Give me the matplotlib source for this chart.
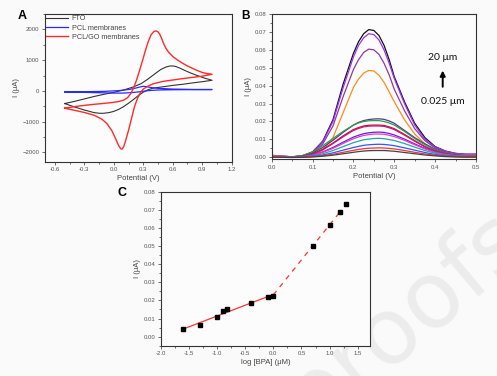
import matplotlib
matplotlib.use("Agg")
import matplotlib.pyplot as plt
import numpy as np
from matplotlib.ticker import MultipleLocator

plt.rcParams['font.family'] = ['Liberation Sans', 'DejaVu Sans']

# ---------------- Panel A data (CV) ----------------
fto_x = [-0.5, -0.4, -0.3, -0.2, -0.1, 0.0, 0.1, 0.2, 0.28, 0.35, 0.42, 0.48, 0.53, 0.57, 0.6, 0.63,
         0.67, 0.72, 0.78, 0.85, 0.92, 1.0,
         0.9, 0.8, 0.7, 0.6, 0.5, 0.4, 0.35, 0.3, 0.25, 0.2, 0.15, 0.1, 0.05, 0.0, -0.05, -0.1,
         -0.14, -0.2, -0.3, -0.4, -0.5]
fto_y = [-410, -340, -260, -180, -110, -45, 30, 130, 240, 390, 560, 700, 775, 810, 812, 795,
         745, 670, 585, 500, 420, 346,
         300, 260, 215, 180, 135, 90, 40, -40, -150, -280, -400, -510, -600, -665, -705, -725,
         -728, -705, -620, -520, -410]

pcl_x = [-0.5, -0.3, -0.1, 0.05, 0.15, 0.22, 0.27, 0.3, 0.33, 0.38, 0.45, 0.6, 0.8, 1.0,
         0.8, 0.6, 0.45, 0.35, 0.28, 0.2, 0.1, 0.0, -0.2, -0.5]
pcl_y = [-30, -25, -15, 10, 45, 90, 130, 150, 140, 110, 85, 60, 48, 45,
         42, 38, 30, 10, -20, -50, -70, -70, -55, -30]

go_x = [-0.5, -0.4, -0.3, -0.2, -0.1, 0.0, 0.05, 0.1, 0.14, 0.17, 0.2, 0.23, 0.26, 0.29, 0.32,
        0.35, 0.38, 0.41, 0.43, 0.45, 0.47, 0.49, 0.51, 0.53, 0.56, 0.6, 0.65, 0.7, 0.75, 0.8,
        0.85, 0.9, 0.95, 1.0,
        0.9, 0.8, 0.7, 0.6, 0.5, 0.4, 0.35, 0.3, 0.27, 0.24, 0.21, 0.18, 0.15, 0.12, 0.1, 0.085,
        0.07, 0.05, 0.02, -0.02, -0.07, -0.12, -0.2, -0.3, -0.4, -0.5]
go_y = [-562, -510, -470, -435, -405, -370, -345, -300, -220, -100, 80, 340, 640, 960, 1290,
        1600, 1830, 1935, 1950, 1920, 1830, 1680, 1520, 1390, 1250, 1120, 1000, 900, 810, 735,
        665, 600, 565, 541,
        480, 440, 400, 355, 310, 230, 160, 60, -60, -250, -520, -900, -1280, -1620, -1820, -1890,
        -1880, -1780, -1560, -1290, -1060, -920, -790, -700, -630, -562]

# ---------------- Panel B data (DPV) ----------------
dpv_x = [0.0, 0.025, 0.05, 0.075, 0.1, 0.125, 0.15, 0.175, 0.2, 0.2125, 0.225, 0.2375, 0.25,
         0.2625, 0.275, 0.2875, 0.3, 0.325, 0.35, 0.375, 0.4, 0.425, 0.45, 0.475, 0.5]
dpv_curves = [
    [0.001, 0.0006, 0.0003, 0.0008, 0.003, 0.009, 0.021, 0.041, 0.058, 0.0645, 0.069, 0.0713, 0.0708, 0.068, 0.0625, 0.0545, 0.045, 0.031, 0.019, 0.011, 0.006, 0.0035, 0.0022, 0.0017, 0.0017],
    [0.0012, 0.0007, 0.0003, 0.0008, 0.003, 0.0087, 0.020, 0.039, 0.056, 0.0625, 0.0667, 0.069, 0.0685, 0.0655, 0.060, 0.0525, 0.044, 0.030, 0.018, 0.010, 0.0058, 0.0034, 0.0022, 0.0018, 0.0018],
    [0.001, 0.0006, 0.0003, 0.0007, 0.0025, 0.0075, 0.0175, 0.034, 0.049, 0.0545, 0.0585, 0.0604, 0.060, 0.0575, 0.0525, 0.046, 0.038, 0.026, 0.016, 0.0093, 0.0052, 0.003, 0.002, 0.0015, 0.0015],
    [0.0008, 0.0005, 0.0002, 0.0003, 0.001, 0.004, 0.011, 0.025, 0.039, 0.0437, 0.047, 0.0485, 0.0482, 0.0458, 0.0418, 0.0365, 0.031, 0.021, 0.013, 0.0075, 0.0042, 0.0025, 0.0015, 0.0012, 0.0012],
    [0.0005, 0.0003, 0.0002, 0.0008, 0.0025, 0.0055, 0.0095, 0.014, 0.018, 0.0195, 0.0205, 0.0211, 0.0214, 0.0215, 0.0212, 0.0203, 0.019, 0.015, 0.011, 0.0075, 0.0045, 0.0025, 0.0015, 0.001, 0.001],
    [0.0005, 0.0003, 0.0002, 0.001, 0.003, 0.0065, 0.0105, 0.0145, 0.018, 0.0192, 0.020, 0.0204, 0.0205, 0.0205, 0.020, 0.0192, 0.018, 0.0145, 0.0105, 0.007, 0.0042, 0.0024, 0.0014, 0.001, 0.001],
    [0.0004, 0.0002, 0.0001, 0.0006, 0.002, 0.0045, 0.008, 0.012, 0.0155, 0.0166, 0.0175, 0.0179, 0.018, 0.018, 0.0178, 0.017, 0.016, 0.0128, 0.0093, 0.006, 0.0036, 0.002, 0.0012, 0.0008, 0.0008],
    [0.0004, 0.0002, 0.0001, 0.0005, 0.0018, 0.0042, 0.0077, 0.0115, 0.015, 0.0161, 0.017, 0.0174, 0.0175, 0.0175, 0.0173, 0.0165, 0.0155, 0.0124, 0.009, 0.0058, 0.0035, 0.002, 0.0012, 0.0008, 0.0008],
    [0.0003, 0.0002, 0.0001, 0.0004, 0.0013, 0.003, 0.0055, 0.0085, 0.0113, 0.0123, 0.0132, 0.0137, 0.014, 0.0141, 0.0139, 0.0133, 0.0125, 0.0102, 0.0075, 0.005, 0.003, 0.0017, 0.001, 0.0007, 0.0007],
    [0.0003, 0.0002, 0.0001, 0.0004, 0.0012, 0.0028, 0.005, 0.0078, 0.0104, 0.0114, 0.0122, 0.0127, 0.013, 0.013, 0.0129, 0.0123, 0.0116, 0.0095, 0.007, 0.0047, 0.0028, 0.0016, 0.001, 0.0007, 0.0007],
    [0.0003, 0.0002, 0.0001, 0.0003, 0.0009, 0.002, 0.0038, 0.006, 0.0082, 0.009, 0.0098, 0.0102, 0.0105, 0.0106, 0.0104, 0.0099, 0.0094, 0.0077, 0.0057, 0.0038, 0.0023, 0.0013, 0.0008, 0.0006, 0.0006],
    [0.0002, 0.0001, 0.0001, 0.0002, 0.0006, 0.0013, 0.0025, 0.004, 0.0055, 0.0061, 0.0067, 0.007, 0.0072, 0.0073, 0.0072, 0.0069, 0.0065, 0.0053, 0.004, 0.0027, 0.0016, 0.0009, 0.0006, 0.0004, 0.0004],
    [0.0002, 0.0001, 0.0, 0.0001, 0.0004, 0.0009, 0.0017, 0.0028, 0.0039, 0.0044, 0.0048, 0.0051, 0.0052, 0.0053, 0.0052, 0.005, 0.0047, 0.0038, 0.0028, 0.0019, 0.0012, 0.0007, 0.0004, 0.0003, 0.0003],
    [0.0001, 0.0, -0.0001, 0.0, 0.0002, 0.0006, 0.0012, 0.002, 0.0028, 0.0032, 0.0035, 0.0037, 0.0038, 0.0038, 0.0038, 0.0036, 0.0034, 0.0027, 0.002, 0.0013, 0.0008, 0.0004, 0.0002, 0.0001, 0.0001],
]
dpv_colors = ['#111111', '#9b30ff', '#8e3a9e', '#ff8c1a', '#4b3c8e', '#2e9b4a', '#c8102e',
              '#c71585', '#5a2ad0', '#ff2fc8', '#20a8a0', '#3355ff', '#ff3030', '#444444']

# ---------------- Panel C data ----------------
log_bpa = [-1.6, -1.3, -1.0, -0.9, -0.82, -0.4, -0.1, 0.0, 0.7, 1.0, 1.18, 1.3]
current_c = [0.0043, 0.0063, 0.0107, 0.014, 0.0151, 0.0188, 0.022, 0.0224, 0.050, 0.0617, 0.0689, 0.073]

W, H = 497, 376
fig = plt.figure(figsize=(W / 100, H / 100), dpi=100, facecolor='#fafafa')

# watermark (behind the axes)
fig.text(405 / W, 1 - 318 / H, 'proofs', fontsize=66, color='#ececec', rotation=40,
         ha='center', va='center', zorder=-1, family='DejaVu Sans')

def ax_at(l, t, r, b):
    return fig.add_axes([l / W, 1 - b / H, (r - l) / W, (b - t) / H], facecolor='#fcfcfc')

def style(ax):
    for s in ax.spines.values():
        s.set_color('#333333')
        s.set_linewidth(0.8)
    ax.tick_params(which='both', direction='out', labelsize=4.3, colors='#333333',
                   labelcolor='#555555', width=0.5, pad=1.5)
    ax.tick_params(which='major', length=2.5)
    ax.tick_params(which='minor', length=1.5)

# ---- Panel A ----
axA = ax_at(45, 14, 231.7, 161.7)
axA.plot(fto_x, fto_y, color='#333333', lw=0.8, label='FTO')
axA.plot(pcl_x, pcl_y, color='#2a2aff', lw=0.9, label='PCL membranes')
axA.plot(go_x, go_y, color='#ff2a2a', lw=1.0, label='PCL/GO membranes')
axA.set_xlim(-0.7, 1.2)
axA.set_ylim(-2300, 2500)
axA.xaxis.set_major_locator(MultipleLocator(0.3))
axA.xaxis.set_minor_locator(MultipleLocator(0.15))
axA.yaxis.set_major_locator(MultipleLocator(1000))
axA.yaxis.set_minor_locator(MultipleLocator(500))
axA.xaxis.set_major_formatter(plt.FuncFormatter(lambda v, p: f'{v:.1f}'))
style(axA)
axA.set_xlabel('Potential (V)', fontsize=5.5, color='#444444', labelpad=2)
axA.set_ylabel('I (μA)', fontsize=5.5, color='#444444', labelpad=2)
leg = axA.legend(loc='upper left', frameon=False, fontsize=5.2, handlelength=3.0,
                 borderaxespad=0.1, labelspacing=0.3, handletextpad=0.5, borderpad=0.1)
for t in leg.get_texts():
    t.set_color('#444444')
fig.text(18 / W, 1 - 16 / H, 'A', fontsize=9, fontweight='bold', va='center', ha='left')

# ---- Panel B ----
axB = ax_at(271.7, 14, 476, 159.3)
for ys, c in zip(dpv_curves, dpv_colors):
    axB.plot(dpv_x, ys, color=c, lw=0.9)
axB.set_xlim(0, 0.5)
axB.set_ylim(-0.0011, 0.08)
axB.xaxis.set_major_locator(MultipleLocator(0.1))
axB.xaxis.set_minor_locator(MultipleLocator(0.05))
axB.yaxis.set_major_locator(MultipleLocator(0.01))
axB.yaxis.set_minor_locator(MultipleLocator(0.005))
axB.xaxis.set_major_formatter(plt.FuncFormatter(lambda v, p: f'{v:.1f}'))
axB.yaxis.set_major_formatter(plt.FuncFormatter(lambda v, p: f'{v:.2f}'))
style(axB)
axB.set_xlabel('Potential (V)', fontsize=5.5, color='#444444', labelpad=2)
axB.set_ylabel('I (μA)', fontsize=5.5, color='#444444', labelpad=2)
axB.text(0.837, 0.70, '20 μm', transform=axB.transAxes, fontsize=7.5, ha='center', va='center',
         family=['Lato', 'DejaVu Sans'], color='#111111')
axB.text(0.837, 0.40, '0.025 μm', transform=axB.transAxes, fontsize=7.5, ha='center', va='center',
         family=['Lato', 'DejaVu Sans'], color='#111111')
axB.annotate('', xy=(0.837, 0.63), xytext=(0.837, 0.48), xycoords='axes fraction',
             arrowprops=dict(arrowstyle='-|>,head_width=0.15,head_length=0.3', color='black', lw=1.4))
fig.text(241 / W, 1 - 16 / H, 'B', fontsize=8.5, fontweight='bold', va='center', ha='left')

# ---- Panel C ----
axC = ax_at(161, 191.7, 370, 345.7)
lx = np.array(log_bpa)
ly = np.array(current_c)
low = lx <= 0.0
p1 = np.polyfit(lx[low], ly[low], 1)
p2 = np.polyfit(lx[~low], ly[~low], 1)
xs1 = np.array([lx[low].min(), 0.0])
xs2 = np.array([0.0, 1.2])
axC.plot(xs1, np.polyval(p1, xs1), color='#ff3333', lw=0.9, zorder=2)
axC.plot(xs2, np.polyval(p2, xs2), color='#ff3333', lw=0.9, ls=(0, (4, 4)), zorder=2)
axC.plot(log_bpa, current_c, 's', color='black', ms=3.2, zorder=3)
axC.set_xlim(-2.0, 1.72)
axC.set_ylim(-0.005, 0.08)
axC.xaxis.set_major_locator(MultipleLocator(0.5))
axC.xaxis.set_minor_locator(MultipleLocator(0.25))
axC.yaxis.set_major_locator(MultipleLocator(0.01))
axC.yaxis.set_minor_locator(MultipleLocator(0.005))
axC.xaxis.set_major_formatter(plt.FuncFormatter(lambda v, p: f'{v:.1f}'))
axC.yaxis.set_major_formatter(plt.FuncFormatter(lambda v, p: f'{v:.2f}'))
style(axC)
axC.set_xlabel('log [BPA] (μM)', fontsize=5.5, color='#444444', labelpad=2)
axC.set_ylabel('I (μA)', fontsize=5.5, color='#444444', labelpad=2)
fig.text(118 / W, 1 - 193 / H, 'C', fontsize=9, fontweight='bold', va='center', ha='left')

fig.savefig('out.png', dpi=100, facecolor=fig.get_facecolor())
